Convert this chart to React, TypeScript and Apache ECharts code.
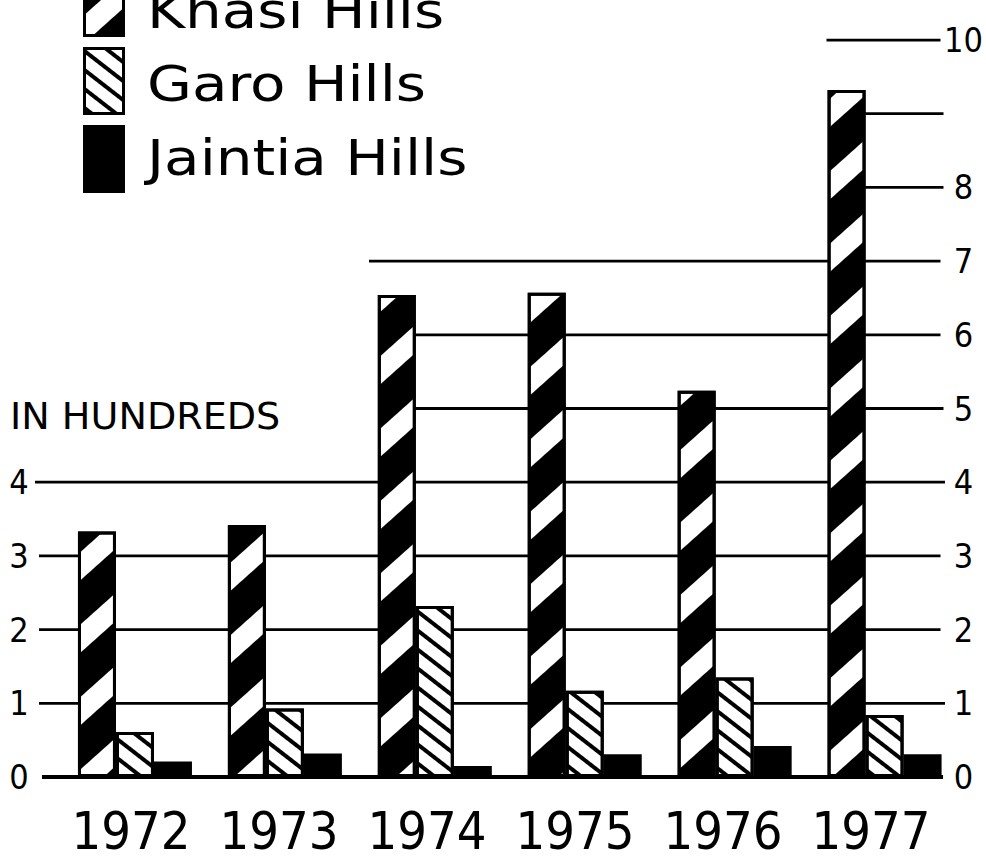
import React, { useEffect, useRef } from 'react';
import * as echarts from 'echarts';

const years = ['1972', '1973', '1974', '1975', '1976', '1977'];
const seriesNames = ['Khasi Hills', 'Garo Hills', 'Jaintia Hills'];
const khasi = [3.33, 3.42, 6.54, 6.57, 5.24, 9.32];
const garo = [0.61, 0.93, 2.32, 1.17, 1.35, 0.84];
const jaintia = [0.21, 0.32, 0.15, 0.31, 0.42, 0.31];
const leftTickLabels = ['0', '1', '2', '3', '4'];
const rightTickLabels = ['0', '1', '2', '3', '4', '5', '6', '7', '8', '', '10'];
const unitLabel = 'IN HUNDREDS';
// horizontal rule values and their extents (in category-index units, 0 = 1972)
const ruleValues = [0, 1, 2, 3, 4, 5, 6, 7, 8, 9, 10];
const ruleStart = [-0.62, -0.64, -0.64, -0.64, -0.667, 1.63, 1.63, 1.56, 4.63, 4.63, 4.61];
const ruleEnd = [5.387, 5.4, 5.37, 5.37, 5.4, 5.39, 5.37, 5.37, 5.39, 5.39, 5.37];

const NUM_FONT = '"DejaVu Sans Condensed", "DejaVu Sans", sans-serif';
const TXT_FONT = '"DejaVu Sans", sans-serif';

export default function App() {
  const ref = useRef<HTMLDivElement>(null);
  useEffect(() => {
    if (!ref.current) return;
    const chart = echarts.init(ref.current, undefined, { renderer: 'svg' });
    const top = 40;
    const bottom = 85;
    const hidden = {
      axisLine: { show: false },
      axisTick: { show: false },
      axisLabel: { show: false },
      splitLine: { show: false },
    };
    const khasiDecal = {
      symbol: 'rect',
      symbolSize: 1,
      dashArrayX: [1, 0],
      dashArrayY: [33, 21],
      rotation: -0.73,
      color: '#000',
    };
    const garoDecal = {
      symbol: 'rect',
      symbolSize: 1,
      dashArrayX: [1, 0],
      dashArrayY: [3.5, 11],
      rotation: 0.66,
      color: '#000',
    };
    const legendY = [11, 84, 158];
    const option: any = {
      animation: false,
      backgroundColor: '#fff',
      grid: [
        { left: 60, right: 26, top, bottom },
        { left: 35, right: 41, top, bottom },
        { left: 57, right: 41, top, bottom },
      ],
      xAxis: [
        { type: 'category', gridIndex: 0, data: years, ...hidden },
        { type: 'value', gridIndex: 1, min: -0.6667, max: 5.4, ...hidden },
        {
          type: 'category',
          gridIndex: 2,
          data: years,
          axisLine: { show: false },
          axisTick: { show: false },
          splitLine: { show: false },
          axisLabel: {
            show: true,
            interval: 0,
            margin: 54,
            verticalAlign: 'middle',
            fontSize: 52,
            fontFamily: NUM_FONT,
            color: '#000',
          },
        },
      ],
      yAxis: [
        {
          type: 'value',
          gridIndex: 0,
          min: 0,
          max: 10,
          interval: 1,
          position: 'left',
          axisLine: { show: false },
          axisTick: { show: false },
          splitLine: { show: false },
          axisLabel: {
            margin: 41,
            align: 'center',
            verticalAlign: 'middle',
            padding: [0, 0, 26, 0],
            fontSize: 34,
            fontFamily: NUM_FONT,
            color: '#000',
            formatter: (v: number) => leftTickLabels[Math.round(v)] ?? '',
          },
        },
        {
          type: 'value',
          gridIndex: 0,
          min: 0,
          max: 10,
          interval: 1,
          position: 'right',
          axisLine: { show: false },
          axisTick: { show: false },
          splitLine: { show: false },
          axisLabel: {
            margin: 4,
            align: 'center',
            verticalAlign: 'middle',
            padding: [0, 0, 26, 0],
            fontSize: 34,
            fontFamily: NUM_FONT,
            color: '#000',
            formatter: (v: number) => rightTickLabels[Math.round(v)] ?? '',
          },
        },
        { type: 'value', gridIndex: 1, min: 0, max: 10, ...hidden },
        { type: 'value', gridIndex: 2, min: 0, max: 10, ...hidden },
      ],
      legend: {
        data: seriesNames,
        orient: 'vertical',
        left: 78,
        top: -36,
        itemWidth: 39,
        itemHeight: 65,
        itemGap: 10,
        icon: 'rect',
        selectedMode: false,
        formatter: () => '',
        itemStyle: { borderColor: '#000', borderWidth: 3 },
      },
      graphic: [
        ...seriesNames.map((n, i) => ({
          type: 'text',
          x: 147,
          y: legendY[i],
          scaleX: 1.16,
          style: {
            text: n,
            font: `50px ${TXT_FONT}`,
            fill: '#000',
            verticalAlign: 'middle',
          },
        })),
        {
          type: 'text',
          x: 10,
          y: 416,
          scaleX: 1.03,
          style: {
            text: unitLabel,
            font: `37px ${TXT_FONT}`,
            fill: '#000',
            verticalAlign: 'middle',
          },
        },
      ],
      series: [
        ...ruleValues.map((v, i) => ({
          type: 'line',
          xAxisIndex: 1,
          yAxisIndex: 2,
          data: [
            [ruleStart[i], v],
            [ruleEnd[i], v],
          ],
          symbol: 'none',
          silent: true,
          z: 1,
          lineStyle: { color: '#000', width: v === 0 ? 4 : 2.8 },
        })),
        {
          name: seriesNames[0],
          type: 'bar',
          xAxisIndex: 0,
          yAxisIndex: 0,
          data: khasi,
          barWidth: 38,
          barGap: '0%',
          z: 3,
          itemStyle: { color: '#fff', borderColor: '#000', borderWidth: 3, decal: khasiDecal },
        },
        {
          name: seriesNames[1],
          type: 'bar',
          xAxisIndex: 0,
          yAxisIndex: 0,
          data: garo,
          barWidth: 38,
          barGap: '0%',
          z: 3,
          itemStyle: { color: '#fff', borderColor: '#000', borderWidth: 3, decal: garoDecal },
        },
        {
          name: seriesNames[2],
          type: 'bar',
          xAxisIndex: 0,
          yAxisIndex: 0,
          data: jaintia,
          barWidth: 38,
          barGap: '0%',
          z: 3,
          itemStyle: { color: '#000', borderColor: '#000', borderWidth: 3 },
        },
      ],
    };
    chart.setOption(option);
    return () => chart.dispose();
  }, []);
  return (
    <div
      ref={ref}
      style={{ position: 'fixed', left: 0, top: 0, width: 986, height: 862, background: '#fff' }}
    />
  );
}
